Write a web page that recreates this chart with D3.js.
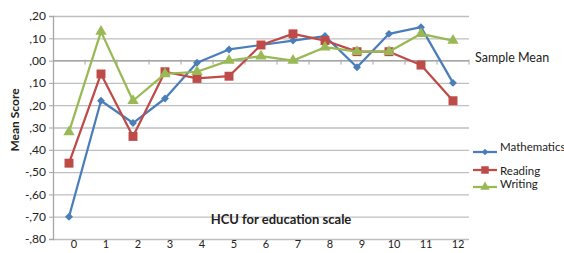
<!DOCTYPE html>
<html>
<head>
<meta charset="utf-8">
<script src="https://cdn.jsdelivr.net/npm/d3@7"></script>
<style>
  body { margin: 0; background: #fff; }
  svg { display: block; font-family: Lato, "Open Sans", sans-serif; }
</style>
</head>
<body>
<div id="chart"></div>
<script>
const categories = ["0", "1", "2", "3", "4", "5", "6", "7", "8", "9", "10", "11", "12"];
const mathematics = [-0.70, -0.18, -0.28, -0.17, -0.01, 0.05, 0.07, 0.09, 0.11, -0.03, 0.12, 0.15, -0.10];
const reading = [-0.46, -0.06, -0.34, -0.05, -0.08, -0.07, 0.07, 0.12, 0.09, 0.04, 0.04, -0.02, -0.18];
const writing = [-0.32, 0.13, -0.18, -0.06, -0.05, 0.00, 0.02, 0.00, 0.06, 0.04, 0.04, 0.12, 0.09];
const yTicks = [0.2, 0.1, 0, -0.1, -0.2, -0.3, -0.4, -0.5, -0.6, -0.7, -0.8];
const yTickLabels = [",20", ",10", ",00", ",10", ",20", ",30", ",40", "-,50", "-,60", "-,70", "-,80"];

const series = [
  { name: "Mathematics", values: mathematics, color: "#4a7ebb", symbol: d3.symbolDiamond2, size: 40 },
  { name: "Reading", values: reading, color: "#be4b48", symbol: d3.symbolSquare, size: 80 },
  { name: "Writing", values: writing, color: "#98b954", symbol: d3.symbolTriangle, size: 55 },
];

const width = 564, height = 253;
const plot = { left: 53, right: 469, top: 16, bottom: 239 };

const svg = d3.select("#chart").append("svg")
  .attr("width", width)
  .attr("height", height);

const x = d3.scaleBand().domain(categories).range([plot.left, plot.right]);
const y = d3.scaleLinear().domain([-0.8, 0.2]).range([plot.bottom, plot.top]);

// gridlines
svg.append("g")
  .attr("transform", `translate(${plot.left},0)`)
  .call(d3.axisRight(y).tickValues(yTicks).tickSize(plot.right - plot.left).tickFormat(""))
  .call(g => g.select(".domain").remove())
  .call(g => g.selectAll("line").attr("stroke", "#bfbfbf").attr("stroke-width", 1.3));

// y axis
svg.append("g")
  .attr("transform", `translate(${plot.left},0)`)
  .call(d3.axisLeft(y).tickValues(yTicks).tickSize(4).tickPadding(3)
    .tickFormat((d, i) => yTickLabels[i]))
  .call(g => g.select(".domain").attr("stroke", "#a6a6a6").attr("stroke-width", 1.3))
  .call(g => g.selectAll("line").attr("stroke", "#a6a6a6"))
  .call(g => g.selectAll("text").attr("fill", "#222").style("font-size", "12px").attr("font-family", "Lato, sans-serif"));

// zero line with category boundary ticks
const zeroG = svg.append("g");
zeroG.append("line")
  .attr("x1", plot.left).attr("x2", plot.right)
  .attr("y1", y(0)).attr("y2", y(0))
  .attr("stroke", "#a6a6a6").attr("stroke-width", 1.3);
zeroG.selectAll("line.tick")
  .data(categories.slice(1).concat(["end"]))
  .join("line")
  .attr("class", "tick")
  .attr("x1", d => d === "end" ? plot.right : x(d))
  .attr("x2", d => d === "end" ? plot.right : x(d))
  .attr("y1", y(0) - 1)
  .attr("y2", y(0) + 4)
  .attr("stroke", "#a6a6a6");

// category labels along the bottom
svg.append("g")
  .attr("transform", `translate(5,${plot.bottom})`)
  .call(d3.axisBottom(x).tickSize(0).tickPadding(1))
  .call(g => g.select(".domain").remove())
  .call(g => g.selectAll("text").attr("fill", "#222").style("font-size", "11px").attr("font-family", "Lato, sans-serif"));

// lines and markers
const line = d3.line()
  .x((d, i) => x(categories[i]) + x.bandwidth() / 2)
  .y(d => y(d));

series.forEach(s => {
  const g = svg.append("g");
  g.append("path")
    .attr("d", line(s.values))
    .attr("fill", "none")
    .attr("stroke", s.color)
    .attr("stroke-width", 2.25)
    .attr("stroke-linejoin", "round");
  g.selectAll("path.marker")
    .data(s.values)
    .join("path")
    .attr("class", "marker")
    .attr("d", d3.symbol(s.symbol, s.size))
    .attr("transform", (d, i) => `translate(${x(categories[i]) + x.bandwidth() / 2},${y(d)})`)
    .attr("fill", s.color);
});

// axis titles
svg.append("text")
  .attr("transform", `translate(19,120) rotate(-90)`)
  .attr("text-anchor", "middle")
  .attr("font-weight", "bold")
  .style("font-size", "12px")
  .attr("fill", "#222")
  .text("Mean Score");

svg.append("text")
  .attr("x", 281).attr("y", 224)
  .attr("text-anchor", "middle")
  .attr("font-weight", "bold")
  .style("font-size", "13px")
  .attr("fill", "#222")
  .text("HCU for education scale");

svg.append("text")
  .attr("x", 475).attr("y", 62)
  .style("font-size", "12.5px")
  .attr("fill", "#222")
  .text("Sample Mean");

// legend
const legendRows = [
  { lineY: 152, textY: 151 },
  { lineY: 170, textY: 175 },
  { lineY: 187, textY: 188 },
];
series.forEach((s, i) => {
  const r = legendRows[i];
  const g = svg.append("g");
  g.append("line")
    .attr("x1", 473).attr("x2", 497)
    .attr("y1", r.lineY).attr("y2", r.lineY)
    .attr("stroke", s.color).attr("stroke-width", 2.25);
  g.append("path")
    .attr("d", d3.symbol(s.symbol, s.size * 0.7))
    .attr("transform", `translate(485,${r.lineY})`)
    .attr("fill", s.color);
  g.append("text")
    .attr("x", 500).attr("y", r.textY)
    .style("font-size", "11.5px")
    .attr("fill", "#222")
    .text(s.name);
});
</script>
</body>
</html>
